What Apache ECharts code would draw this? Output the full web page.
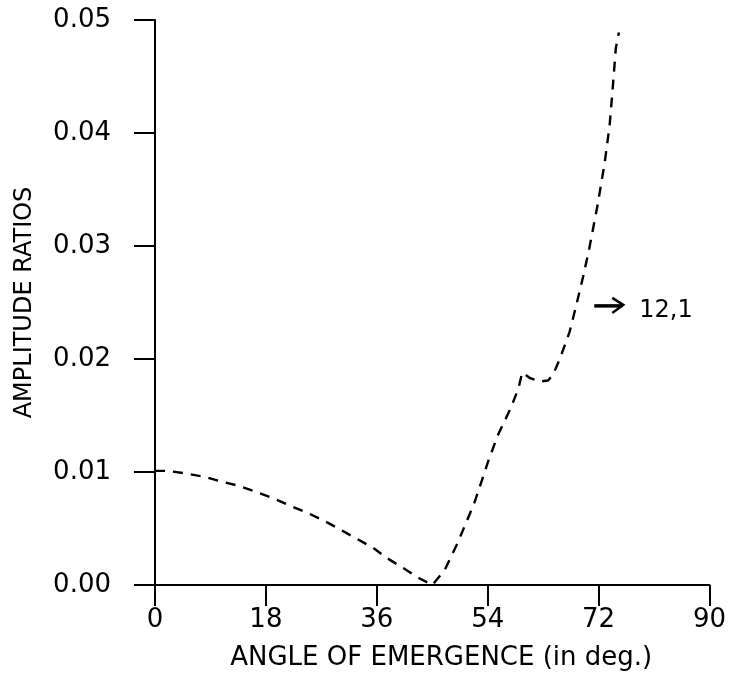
<!DOCTYPE html>
<html>
<head>
<meta charset="utf-8">
<script src="https://cdn.jsdelivr.net/npm/echarts@6/dist/echarts.min.js"></script>
<style>
html,body{margin:0;padding:0;background:#fff;}
#chart{width:729px;height:680px;}
</style>
</head>
<body>
<div id="chart"></div>
<script>
// Data
const angles = [0, 2, 4.6, 7.8, 10.5, 13.4, 16.1, 19.1, 22.0, 24.7, 27.4, 30.1, 32.7, 35.4, 37.6, 40.3, 42.9, 45.0,
                47.0, 49.1, 51.8, 54.0, 55.6, 57.7, 59.0, 59.6, 60.9, 62.5, 63.8, 64.6, 65.7, 67.3, 68.4, 69.5, 70.5, 71.9, 73.0, 73.8, 74.3, 74.8, 75.3];
const ratios = [0.0101, 0.0101, 0.0099, 0.0096, 0.0092, 0.0088, 0.0083, 0.0077, 0.0070, 0.0064, 0.0057, 0.0049, 0.0041, 0.0033, 0.0024, 0.0015, 0.0006, 0.0000,
                0.0013, 0.0037, 0.0072, 0.0108, 0.0132, 0.0156, 0.0174, 0.0188, 0.0183, 0.0180, 0.0181, 0.0186, 0.0200, 0.0224, 0.0248, 0.0273, 0.0298, 0.0338, 0.0374, 0.0407, 0.0440, 0.0475, 0.0489];
const xTicks = [0, 18, 36, 54, 72, 90];
const yTicks = [0.00, 0.01, 0.02, 0.03, 0.04, 0.05];
const annotationText = '12,1';
const annotationAt = [71.3, 0.0247];

const chart = echarts.init(document.getElementById('chart'), null, {renderer: 'canvas'});
const font = 'DejaVu Sans';
const axisCommon = {
  axisLine: {show: true, onZero: false, lineStyle: {color: '#000', width: 2}},
  axisTick: {show: true, inside: false, length: 21, lineStyle: {color: '#000', width: 2}},
  splitLine: {show: false},
  axisLabel: {color: '#000', fontFamily: font, fontSize: 26}
};
chart.setOption({
  animation: false,
  backgroundColor: '#fff',
  grid: {left: 155, right: 16, top: 20, bottom: 95, containLabel: false},
  xAxis: Object.assign({}, axisCommon, {
    type: 'value', min: xTicks[0], max: xTicks[xTicks.length - 1], interval: 18,
    name: 'ANGLE OF EMERGENCE (in deg.)', nameLocation: 'middle', nameGap: 60,
    nameTextStyle: {color: '#000', fontFamily: font, fontSize: 26, padding: [0, 0, 0, 18]},
    axisLabel: Object.assign({}, axisCommon.axisLabel, {margin: 22})
  }),
  yAxis: Object.assign({}, axisCommon, {
    type: 'value', min: yTicks[0], max: yTicks[yTicks.length - 1], interval: 0.01,
    name: 'AMPLITUDE RATIOS', nameLocation: 'middle', nameGap: 118, nameRotate: 90,
    nameTextStyle: {color: '#000', fontFamily: font, fontSize: 24},
    axisLabel: Object.assign({}, axisCommon.axisLabel, {margin: 44, formatter: v => v.toFixed(2)})
  }),
  series: [{
    type: 'line',
    data: angles.map((a, i) => [a, ratios[i]]),
    showSymbol: false,
    symbol: 'none',
    lineStyle: {color: '#000', width: 2.4, type: [10, 8]},
    z: 3
  }]
});

// handwritten-style annotation anchored to a data position
const p = chart.convertToPixel({gridIndex: 0}, annotationAt);
chart.setOption({
  graphic: [
    {type: 'line', shape: {x1: p[0], y1: p[1], x2: p[0] + 28, y2: p[1]}, style: {stroke: '#000', lineWidth: 3.5}},
    {type: 'polyline', shape: {points: [[p[0] + 18, p[1] - 8], [p[0] + 29, p[1] - 1], [p[0] + 18, p[1] + 7]]}, style: {stroke: '#000', lineWidth: 2.5, fill: null}},
    {type: 'text', x: p[0] + 45, y: p[1] + 5, style: {text: annotationText, font: '24px "DejaVu Sans"', fill: '#000', textVerticalAlign: 'middle'}}
  ]
});
</script>
</body>
</html>
